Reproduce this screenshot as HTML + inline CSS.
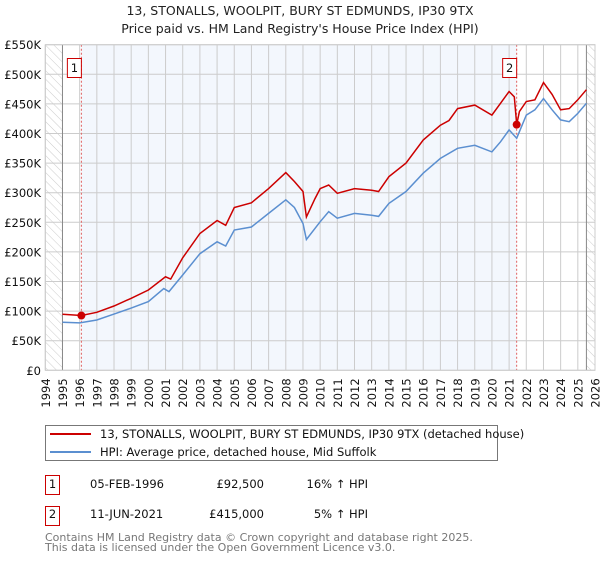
<!DOCTYPE html>
<html><head><meta charset="utf-8"><style>
body{margin:0;background:#fff;font-family:"Liberation Sans","DejaVu Sans",sans-serif;}
svg text{font-family:"DejaVu Sans","Liberation Sans",sans-serif;}
</style></head><body>
<svg id="c" width="600" height="560" xmlns="http://www.w3.org/2000/svg">
<defs><pattern id="hatch" width="6" height="6" patternUnits="userSpaceOnUse" patternTransform="rotate(-45)"><line x1="0" y1="0" x2="0" y2="6" stroke="#ccc" stroke-width="1"/></pattern></defs>
<text x="300" y="15" text-anchor="middle" font-size="12.5" fill="#222">13, STONALLS, WOOLPIT, BURY ST EDMUNDS, IP30 9TX</text>
<text x="300" y="33" text-anchor="middle" font-size="12.5" fill="#222">Price paid vs. HM Land Registry's House Price Index (HPI)</text>
<g id="plot"></g>
<g>
<rect x="45.5" y="425.5" width="452" height="35" fill="#fff" stroke="#777"/>
<line x1="50" y1="434" x2="91" y2="434" stroke="#cc0000" stroke-width="2"/>
<text x="100" y="438" font-size="11.5" fill="#111">13, STONALLS, WOOLPIT, BURY ST EDMUNDS, IP30 9TX (detached house)</text>
<line x1="50" y1="452" x2="91" y2="452" stroke="#5b8fd0" stroke-width="2"/>
<text x="100" y="456" font-size="11.5" fill="#111">HPI: Average price, detached house, Mid Suffolk</text>
</g>
<g font-size="11.5" fill="#111">
<rect x="45.5" y="475.5" width="14" height="19" fill="#fff" stroke="#cc0000"/>
<text x="52.5" y="488" text-anchor="middle">1</text>
<text x="90" y="488">05-FEB-1996</text>
<text x="264" y="488" text-anchor="end">£92,500</text>
<text x="368" y="488" text-anchor="end">16% ↑ HPI</text>
<rect x="45.5" y="506.5" width="14" height="19" fill="#fff" stroke="#cc0000"/>
<text x="52.5" y="518" text-anchor="middle">2</text>
<text x="90" y="518">11-JUN-2021</text>
<text x="264" y="518" text-anchor="end">£415,000</text>
<text x="368" y="518" text-anchor="end">5% ↑ HPI</text>
</g>
<text x="45" y="541" font-size="11" fill="#777">Contains HM Land Registry data © Crown copyright and database right 2025.</text>
<text x="45" y="551" font-size="11" fill="#777">This data is licensed under the Open Government Licence v3.0.</text>
</svg>
<script>
const hpiYears=[1995,1996,1997,1998,1999,2000,2000.9,2001.2,2002,2003,2004,2004.5,2005,2006,2007,2008,2008.5,2009,2009.2,2010,2010.5,2011,2012,2013,2013.4,2014,2015,2016,2017,2018,2019,2020,2020.5,2021,2021.44,2022,2022.5,2023,2023.5,2024,2024.5,2025,2025.5];
const hpiValues=[81,80,85,95,105,116,138,133,161,197,217,210,237,242,265,288,275,248,221,251,268,257,265,262,260,282,302,333,358,375,380,369,386,406,392,431,440,459,440,423,420,434,451];
const propYears=[1995,1996.1,1997,1998,1999,2000,2001,2001.3,2002,2003,2004,2004.5,2005,2006,2007,2008,2008.5,2009,2009.2,2009.7,2010,2010.5,2011,2012,2013,2013.4,2014,2015,2016,2017,2017.5,2018,2019,2020,2020.5,2021,2021.3,2021.44,2021.6,2022,2022.5,2023,2023.5,2024,2024.5,2025,2025.5];
const propValues=[94.6,92.5,98,108.6,121.6,135.6,158,154,190,231,253,245,275,283,307,334,319,302,259,290,307,313,299,307,304,302,327,350,389,414,422,442,448,431,451,471,462,415,437,454,457,486,466,440,442,457,474];
const saleYears=[1996.1,2021.44];
const saleValues=[92.5,415];
const saleLabels=['1','2'];
const yTicks=[0,50,100,150,200,250,300,350,400,450,500,550];
const yTickLabels=['£0','£50K','£100K','£150K','£200K','£250K','£300K','£350K','£400K','£450K','£500K','£550K'];
const xTicks=[1994,1995,1996,1997,1998,1999,2000,2001,2002,2003,2004,2005,2006,2007,2008,2009,2010,2011,2012,2013,2014,2015,2016,2017,2018,2019,2020,2021,2022,2023,2024,2025,2026];

const L=45.3,R=595,T=44.7,B=370.3;
const X=y=>L+(y-1994)/32*(R-L);
const Y=v=>B-v/550*(B-T);
const NS='http://www.w3.org/2000/svg';
const g=document.getElementById('plot');
function mk(tag,a,p){const e=document.createElementNS(NS,tag);for(const k in a)e.setAttribute(k,a[k]);(p||g).appendChild(e);return e;}
let e;
e=mk('rect',{x:L,y:T,width:R-L,height:B-T,fill:'#fff'});


e=mk('rect',{x:X(saleYears[0]),y:T,width:X(saleYears[1])-X(saleYears[0]),height:B-T,fill:'#eef3fc',opacity:0.7});


e=mk('rect',{x:L,y:T,width:X(1995)-L,height:B-T,fill:'url(#hatch)'});


e=mk('rect',{x:X(2025.5),y:T,width:R-X(2025.5),height:B-T,fill:'url(#hatch)'});


xTicks.forEach(t=>{
  e=mk('line',{x1:X(t),x2:X(t),y1:T,y2:B,stroke:'#ccc','stroke-width':1});
  
  
  e=mk('text',{x:0,y:0,transform:`translate(${X(t)+4.5},${B+8}) rotate(-90)`,'text-anchor':'end','font-size':11.5,fill:'#111'});
  e.textContent=t;
  
  
});
yTicks.forEach((t,i)=>{
  e=mk('line',{x1:L,x2:R,y1:Y(t),y2:Y(t),stroke:'#ccc','stroke-width':1});
  
  
  e=mk('text',{x:41,y:Y(t)+4.5,'text-anchor':'end','font-size':11.5,fill:'#111'});
  e.textContent=yTickLabels[i];
  
  
});
e=mk('line',{x1:X(1995),x2:X(1995),y1:T,y2:B,stroke:'#888'});


e=mk('line',{x1:X(2025.5),x2:X(2025.5),y1:T,y2:B,stroke:'#888'});


saleYears.forEach((s,i)=>{
  e=mk('line',{x1:X(s),x2:X(s),y1:T,y2:B,stroke:'#e06060','stroke-dasharray':'2,2'});
  
  
});
function path(xs,vs){return xs.map((x,i)=>(i?'L':'M')+X(x).toFixed(1)+','+Y(vs[i]).toFixed(1)).join('');}
e=mk('path',{d:path(hpiYears,hpiValues),fill:'none',stroke:'#5b8fd0','stroke-width':1.5});


e=mk('path',{d:path(propYears,propValues),fill:'none',stroke:'#cc0000','stroke-width':1.5});


saleYears.forEach((s,i)=>{
  e=mk('circle',{cx:X(s),cy:Y(saleValues[i]),r:4,fill:'#cc0000'});
  
  
  e=mk('rect',{x:X(s)-14,y:58.5,width:14,height:19,fill:'#fff',stroke:'#cc0000'});
  
  
  e=mk('text',{x:X(s)-7,y:72,'text-anchor':'middle','font-size':11.5,fill:'#111'});
  e.textContent=saleLabels[i];
  
  
});
e=mk('rect',{x:L,y:T,width:R-L,height:B-T,fill:'none',stroke:'#ccc'});


</script>
</body></html>
